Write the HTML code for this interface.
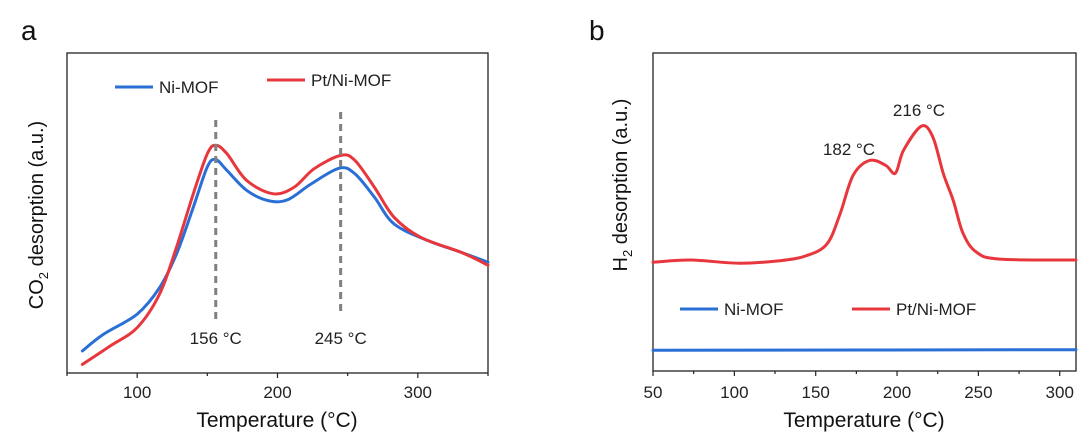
<!DOCTYPE html>
<html><head><meta charset="utf-8"><style>
body{margin:0;background:#fff;width:1080px;height:435px;overflow:hidden}
svg{font-family:"Liberation Sans",Arial,sans-serif}
</style></head><body>
<svg id="fig" width="1080" height="435" xmlns="http://www.w3.org/2000/svg"></svg>
<script>
// Panel a data
const aTemps = [61,76,100,116,128,140,150,156,164,178,193,207,224,244,255,269,283,307,331,350];
const aNi = [6.9,12.1,18.4,26.7,37.2,51.8,64.4,66.7,63.3,57.1,53.9,54.1,59.1,64.0,62.3,55.0,46.6,41.4,37.7,34.6];
const aPtTemps = [61,81,100,116,128,140,150,156,164,178,197,212,226,245,255,269,283,302,331,350];
const aPt = [2.7,8.5,14.2,24.7,39.3,56.0,68.5,71.2,68.5,60.2,56.0,58.1,63.8,68.0,66.5,58.1,48.7,42.4,37.7,33.7];
const aTicks = [100,200,300];
const aPeaks = [156,245];
// Panel b data
const bTemps = [50,73,103,128,144.5,157,165,173,183,193,199,204,215,222,228.5,234.6,240.7,249,263,310];
const bPt = [34.2,34.9,33.9,34.7,36.3,40,49.4,61.5,66.2,64.7,62.2,69.4,77.0,73.6,62.0,53.6,43.1,37.3,35.2,34.9];
const bNiTemps = [50,310];
const bNi = [6.5,6.7];
const bTicks = [50,100,150,200,250,300];

const NS="http://www.w3.org/2000/svg";
const svg=document.getElementById('fig');
function mk(tag,attrs,parent){const e=document.createElementNS(NS,tag);for(const k in attrs)e.setAttribute(k,attrs[k]);(parent||svg).appendChild(e);return e;}
function txt(s,attrs){const e=mk('text',attrs);e.textContent=s;return e;}
function smooth(pts){
  let d='M'+pts[0][0].toFixed(1)+','+pts[0][1].toFixed(1);
  for(let i=0;i<pts.length-1;i++){
    const p0=pts[Math.max(0,i-1)],p1=pts[i],p2=pts[i+1],p3=pts[Math.min(pts.length-1,i+2)];
    const c1=[p1[0]+(p2[0]-p0[0])/6,p1[1]+(p2[1]-p0[1])/6];
    const c2=[p2[0]-(p3[0]-p1[0])/6,p2[1]-(p3[1]-p1[1])/6];
    d+=' C'+c1[0].toFixed(1)+','+c1[1].toFixed(1)+' '+c2[0].toFixed(1)+','+c2[1].toFixed(1)+' '+p2[0].toFixed(1)+','+p2[1].toFixed(1);
  }
  return d;
}

function panel(P){
  const sx=t=>P.x0+(t-P.t0)/(P.t1-P.t0)*(P.x1-P.x0);
  const sy=v=>P.y1-v/100*(P.y1-P.y0);
  const fr=mk('rect',{x:P.x0,y:P.y0,width:P.x1-P.x0,height:P.y1-P.y0,fill:'none',stroke:'#222','stroke-width':1.3});
  
  
  for(let t=P.t0;t<=P.t1+0.01;t+=P.minor){
    const major=P.ticks.includes(Math.round(t));
    const tk=mk('line',{x1:sx(t),x2:sx(t),y1:P.y1,y2:P.y1+(major?5:3),stroke:'#222','stroke-width':1.2});
    
    
  }
  P.ticks.forEach(t=>{
    const l=txt(String(t),{x:sx(t),y:398,'text-anchor':'middle','font-size':17,fill:'#222'});
    
    
  });
  P.series.forEach(s=>{
    const pts=s.t.map((t,i)=>[sx(t),sy(s.v[i])]);
    const p=mk('path',{d:smooth(pts),fill:'none',stroke:s.c,'stroke-width':3,'stroke-linejoin':'round','stroke-linecap':'round'});
    
    
  });
  return {sx,sy};
}

const A={id:'a',x0:67,x1:488,y0:53,y1:373,t0:50,t1:350,minor:50,ticks:aTicks,
  series:[{t:aTemps,v:aNi,c:'#2a6fd6',name:'ni-mof-line-a'},{t:aPtTemps,v:aPt,c:'#e8373c',name:'pt-ni-mof-line-a'}]};
const sa=panel(A);
const pkY=[[120,320],[112,312]];
aPeaks.forEach((t,i)=>{
  const l=mk('line',{x1:sa.sx(t),x2:sa.sx(t),y1:pkY[i][0],y2:pkY[i][1],stroke:'#808080','stroke-width':3,'stroke-dasharray':'7,5'});
  
  
  const tx=txt(t+' °C',{x:sa.sx(t),y:344,'text-anchor':'middle','font-size':17,fill:'#222'});
  
  
});

const B={id:'b',x0:653,x1:1076,y0:53,y1:371,t0:50,t1:310,minor:25,ticks:bTicks,
  series:[{t:bNiTemps,v:bNi,c:'#2a6fd6',name:'ni-mof-line-b'},{t:bTemps,v:bPt,c:'#e8373c',name:'pt-ni-mof-line-b'}]};
panel(B);

function legend(x,y,c,label,name){
  const l=mk('line',{x1:x,x2:x+38,y1:y,y2:y,stroke:c,'stroke-width':3});
  
  
  const t=txt(label,{x:x+44,y:y+6,'font-size':17,fill:'#222'});
  
  
}
legend(115,87,'#2a6fd6','Ni-MOF','legend-a-ni-mof');
legend(267,80,'#e8373c','Pt/Ni-MOF','legend-a-pt-ni-mof');
legend(680,309,'#2a6fd6','Ni-MOF','legend-b-ni-mof');
legend(852,309,'#e8373c','Pt/Ni-MOF','legend-b-pt-ni-mof');

let t;
t=txt('216 °C',{x:919,y:116,'text-anchor':'middle','font-size':17,fill:'#222'});


t=txt('182 °C',{x:849,y:155,'text-anchor':'middle','font-size':17,fill:'#222'});



t=txt('Temperature (°C)',{x:277,y:427,'text-anchor':'middle','font-size':21,fill:'#111'});


t=txt('Temperature (°C)',{x:864,y:427,'text-anchor':'middle','font-size':21,fill:'#111'});



t=mk('text',{x:0,y:0,transform:'translate(43,215) rotate(-90)','text-anchor':'middle','font-size':20,fill:'#111'});
t.innerHTML='CO<tspan font-size="13" dy="5">2</tspan><tspan dy="-5"> desorption (a.u.)</tspan>';


t=mk('text',{x:0,y:0,transform:'translate(627,185) rotate(-90)','text-anchor':'middle','font-size':20,fill:'#111'});
t.innerHTML='H<tspan font-size="13" dy="5">2</tspan><tspan dy="-5"> desorption (a.u.)</tspan>';



t=txt('a',{x:21,y:40,'font-size':28,fill:'#111'});


t=txt('b',{x:589,y:40,'font-size':28,fill:'#111'});


</script>
</body></html>
